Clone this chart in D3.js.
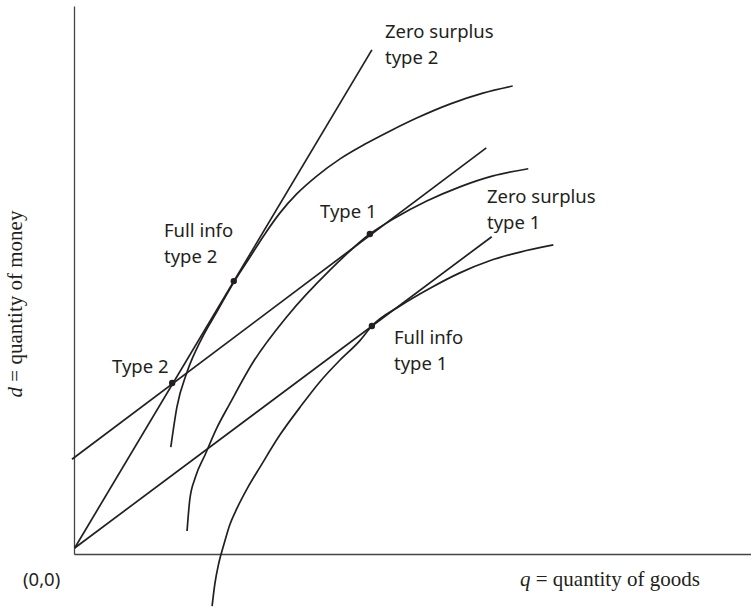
<!DOCTYPE html>
<html>
<head>
<meta charset="utf-8">
<script src="https://cdn.jsdelivr.net/npm/d3@7/dist/d3.min.js"></script>
<style>
  body { margin: 0; background: #fff; }
  .lbl { font-family: "Noto Sans", "Open Sans", sans-serif; font-size: 18.5px; fill: #231f20; }
  .ttl { font-family: "Liberation Serif", "DejaVu Serif", serif; font-size: 21px; fill: #231f20; }
</style>
</head>
<body>
<div id="my_dataviz"></div>
<script>
// q = quantity of goods, d = quantity of money (no ticks on the original, units 0..10)

// type 2 indifference curve (through full info type 2)
var curveA_q = [1.43, 1.52, 1.67, 1.89, 2.11, 2.36, 2.60, 2.82, 3.04, 3.29, 3.59, 3.93, 4.30, 4.67, 5.07, 5.55, 6.04, 6.48];
var curveA_d = [1.95, 2.68, 3.32, 3.94, 4.42, 4.96, 5.42, 5.84, 6.22, 6.57, 6.90, 7.21, 7.48, 7.72, 7.96, 8.21, 8.41, 8.54];

// type 1 indifference curve through the type 1 contract
var curveB_q = [1.67, 1.71, 1.79, 1.94, 2.11, 2.30, 2.64, 3.15, 3.78, 4.37, 4.74, 5.21, 5.70, 6.19, 6.71];
var curveB_d = [0.42, 0.99, 1.39, 1.82, 2.30, 2.74, 3.49, 4.34, 5.18, 5.84, 6.13, 6.44, 6.70, 6.90, 7.03];

// type 1 indifference curve through full info type 1
var curveC_q = [2.04, 2.08, 2.14, 2.22, 2.30, 2.41, 2.57, 2.75, 3.04, 3.34, 3.63, 3.93, 4.22, 4.40, 4.82, 5.26, 5.70, 6.14, 6.59, 7.08];
var curveC_d = [-0.95, -0.55, -0.16, 0.20, 0.53, 0.84, 1.22, 1.59, 2.17, 2.68, 3.14, 3.54, 3.89, 4.16, 4.53, 4.85, 5.13, 5.35, 5.51, 5.64];

// straight lines: start and end points
var zero2_q = [0.01, 4.40], zero2_d = [0.11, 9.20];
var zero1_q = [0.01, 6.17], zero1_d = [0.11, 5.79];
var price_q = [-0.03, 6.09], price_d = [1.73, 7.41];

// marked contracts
var pointNames = ["Full info type 2", "Type 1", "Type 2", "Full info type 1"];
var point_q = [2.36, 4.37, 1.45, 4.40];
var point_d = [4.98, 5.84, 3.12, 4.16];

// annotation texts
var labelTexts = [["Zero surplus", "type 2"], ["Type 1"], ["Full info", "type 2"], ["Type 2"],
                  ["Zero surplus", "type 1"], ["Full info", "type 1"], ["(0,0)"]];

var width = 751, height = 609;

var svg = d3.select("#my_dataviz")
  .append("svg")
    .attr("width", width)
    .attr("height", height);

var x = d3.scaleLinear().domain([0, 10]).range([74, 751]);
var y = d3.scaleLinear().domain([0, 10]).range([554, 6]);

// axes: plain lines, no ticks
svg.append("g")
  .attr("transform", "translate(0," + y(0) + ")")
  .call(d3.axisBottom(x).tickValues([]).tickSizeOuter(0))
  .select(".domain").attr("stroke", "#444").attr("stroke-width", 1.3);
svg.append("g")
  .attr("transform", "translate(" + x(0) + ",0)")
  .call(d3.axisLeft(y).tickValues([]).tickSizeOuter(0))
  .select(".domain").attr("stroke", "#444").attr("stroke-width", 1.3);

function zip(qs, ds) { return qs.map(function(q, i) { return [q, ds[i]]; }); }

var smooth = d3.line()
  .x(function(d) { return x(d[0]); })
  .y(function(d) { return y(d[1]); })
  .curve(d3.curveMonotoneX);
var straight = d3.line()
  .x(function(d) { return x(d[0]); })
  .y(function(d) { return y(d[1]); });

var curves = [zip(curveA_q, curveA_d), zip(curveB_q, curveB_d), zip(curveC_q, curveC_d)];
var lines = [zip(zero2_q, zero2_d), zip(zero1_q, zero1_d), zip(price_q, price_d)];

svg.selectAll("path.curve")
  .data(curves)
  .enter()
  .append("path")
    .attr("class", "curve")
    .attr("d", smooth)
    .attr("fill", "none")
    .attr("stroke", "#231f20")
    .attr("stroke-width", 1.7);

svg.selectAll("path.line")
  .data(lines)
  .enter()
  .append("path")
    .attr("class", "line")
    .attr("d", straight)
    .attr("fill", "none")
    .attr("stroke", "#231f20")
    .attr("stroke-width", 1.7);

svg.selectAll("circle")
  .data(zip(point_q, point_d))
  .enter()
  .append("circle")
    .attr("cx", function(d) { return x(d[0]); })
    .attr("cy", function(d) { return y(d[1]); })
    .attr("r", 3.2)
    .attr("fill", "#231f20");

// label placement (left x, first baseline)
var labelPos = [[385, 38], [320, 218], [164, 237], [112, 373], [487, 203], [394, 344], [23, 586]];
var lineGap = 25.5;

labelTexts.forEach(function(lines, i) {
  var t = svg.append("text")
    .attr("class", "lbl")
    .attr("x", labelPos[i][0])
    .attr("y", labelPos[i][1]);
  lines.forEach(function(s, j) {
    t.append("tspan")
      .attr("x", labelPos[i][0])
      .attr("dy", j === 0 ? 0 : lineGap)
      .text(s);
  });
});

// axis titles
var xt = svg.append("text").attr("class", "ttl").attr("x", 520).attr("y", 586);
xt.append("tspan").style("font-style", "italic").text("q");
xt.append("tspan").text(" = quantity of goods");

var yt = svg.append("text").attr("class", "ttl")
  .attr("transform", "translate(22,304)rotate(-90)")
  .attr("text-anchor", "middle");
yt.append("tspan").style("font-style", "italic").text("d");
yt.append("tspan").text(" = quantity of money");
</script>
</body>
</html>
